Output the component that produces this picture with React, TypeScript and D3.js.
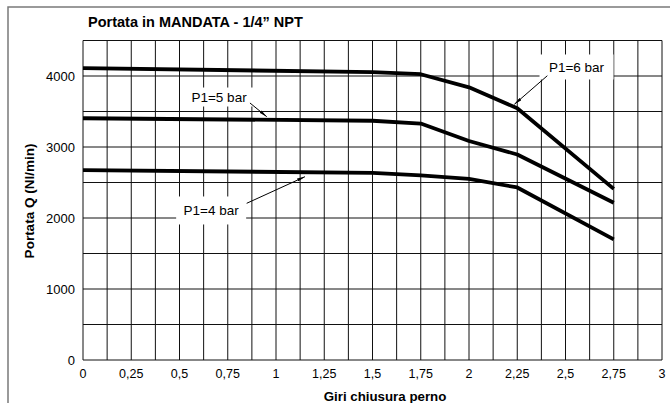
import React from "react";
import * as d3 from "d3";

// Flow rate vs. turns of the closing pin, one curve per inlet pressure
const turns = [0, 1.5, 1.75, 2, 2.25, 2.75];
const flow6bar = [4110, 4055, 4025, 3840, 3545, 2410];
const flow5bar = [3405, 3370, 3330, 3085, 2895, 2215];
const flow4bar = [2675, 2635, 2600, 2550, 2430, 1700];

const seriesNames = ["P1=6 bar", "P1=5 bar", "P1=4 bar"];
const seriesValues = [flow6bar, flow5bar, flow4bar];

const xTickValues = [0, 0.25, 0.5, 0.75, 1, 1.25, 1.5, 1.75, 2, 2.25, 2.5, 2.75, 3];
const xTickLabels = ["0", "0,25", "0,5", "0,75", "1", "1,25", "1,5", "1,75", "2", "2,25", "2,5", "2,75", "3"];
const yTickValues = [0, 1000, 2000, 3000, 4000];

// Label callouts: text centre, arrow start and arrow tip, in data units
const labelAt = [
  { text: [2.557, 4127], from: [2.406, 4004], to: [2.235, 3601], box: [74, 25] },
  { text: [0.705, 3704], from: [0.865, 3620], to: [0.952, 3427], box: [68, 19] },
  { text: [0.664, 2106], from: [0.848, 2207], to: [1.15, 2582], box: [70, 28] },
];

const W = 670;
const H = 403;
const FONT = "'Liberation Sans', Arial, Helvetica, sans-serif";

export default function App() {
  const x = d3.scaleLinear().domain([0, 3]).range([83, 662]);
  const y = d3.scaleLinear().domain([0, 4500]).range([360, 40.5]);

  const line = d3
    .line<[number, number]>()
    .x((d) => x(d[0]))
    .y((d) => y(d[1]));

  const xGrid = d3.range(0, 3 + 1e-9, 0.125);
  const yGrid = d3.range(0, 4500 + 1e-9, 500);

  return (
    <svg
      width={W}
      height={H}
      style={{ position: "absolute", left: 0, top: 0, background: "#fff" }}
      fontFamily={FONT}
    >
      <defs>
        <marker
          id="tip"
          viewBox="0 0 10 4"
          refX="10"
          refY="2"
          markerWidth="8"
          markerHeight="3.2"
          markerUnits="userSpaceOnUse"
          orient="auto"
        >
          <path d="M0,0 L10,2 L0,4 Z" fill="#000" />
        </marker>
      </defs>

      {/* outer frame */}
      <path d={`M8,${H} L8,7 L${W},7`} fill="none" stroke="#7a7a7a" strokeWidth={1.5} />

      {/* title */}
      <text x={88} y={27} fontSize={14.5} fontWeight="bold" fill="#000">
        Portata in MANDATA - 1/4” NPT
      </text>

      {/* grid */}
      {xGrid.map((v, i) => (
        <line key={"gx" + i} x1={x(v)} x2={x(v)} y1={y(4500)} y2={y(0)} stroke="#111" strokeWidth={1} />
      ))}
      {yGrid.map((v, i) => (
        <line key={"gy" + i} x1={x(0)} x2={x(3)} y1={y(v)} y2={y(v)} stroke="#111" strokeWidth={1} />
      ))}

      {/* label backgrounds */}
      {labelAt.map((l, i) => (
        <rect
          key={"bg" + i}
          x={x(l.text[0]) - l.box[0] / 2}
          y={y(l.text[1]) - l.box[1] / 2}
          width={l.box[0]}
          height={l.box[1]}
          fill="#fff"
        />
      ))}

      {/* curves */}
      {seriesValues.map((vals, i) => (
        <path
          key={"s" + i}
          d={line(turns.map((t, j) => [t, vals[j]]) as [number, number][]) || ""}
          fill="none"
          stroke="#000"
          strokeWidth={3.8}
          strokeLinejoin="round"
        />
      ))}

      {/* callouts */}
      {labelAt.map((l, i) => (
        <g key={"lab" + i}>
          <line
            x1={x(l.from[0])}
            y1={y(l.from[1])}
            x2={x(l.to[0])}
            y2={y(l.to[1])}
            stroke="#000"
            strokeWidth={1}
            markerEnd="url(#tip)"
          />
          <text
            x={x(l.text[0])}
            y={y(l.text[1])}
            dy="0.35em"
            textAnchor="middle"
            fontSize={13.5}
            fill="#000"
          >
            {seriesNames[i]}
          </text>
        </g>
      ))}

      {/* y tick labels */}
      {yTickValues.map((v) => (
        <text key={"yt" + v} x={75} y={y(v)} dy="0.35em" textAnchor="end" fontSize={13} fill="#000">
          {v}
        </text>
      ))}

      {/* x tick labels */}
      {xTickValues.map((v, i) => (
        <text key={"xt" + v} x={x(v)} y={377.5} textAnchor="middle" fontSize={12.5} fill="#000">
          {xTickLabels[i]}
        </text>
      ))}

      {/* axis titles */}
      <text x={385} y={401} textAnchor="middle" fontSize={13.3} fontWeight="bold" fill="#000">
        Giri chiusura perno
      </text>
      <text
        transform={`translate(34,201) rotate(-90)`}
        textAnchor="middle"
        fontSize={13.5}
        fontWeight="bold"
        fill="#000"
      >
        Portata Q (Nl/min)
      </text>
    </svg>
  );
}
